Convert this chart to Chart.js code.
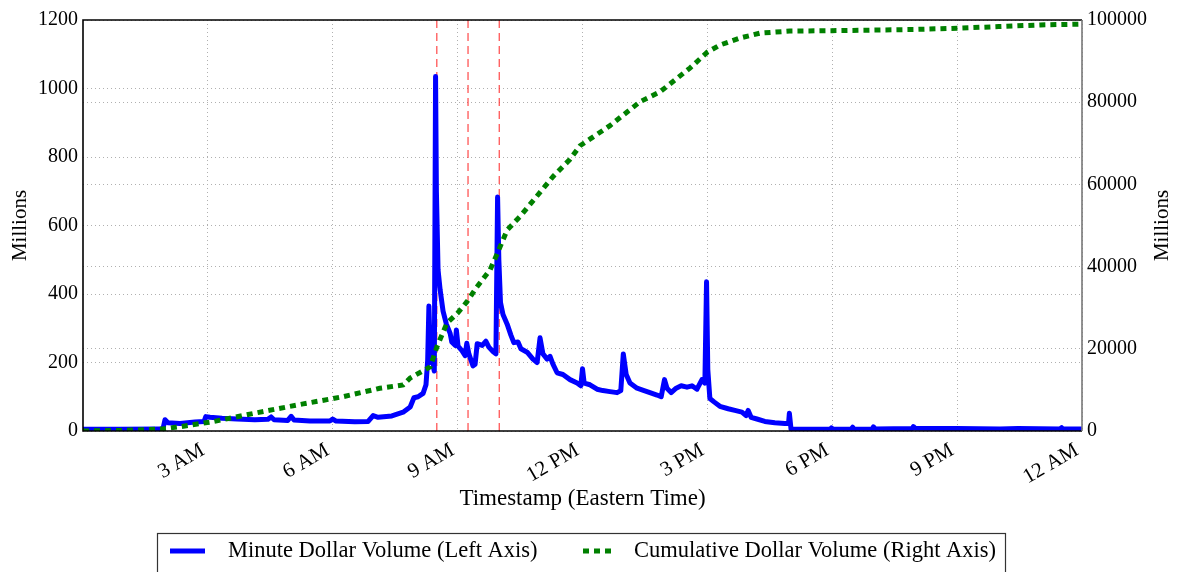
<!DOCTYPE html>
<html><head><meta charset="utf-8">
<script src="https://cdn.jsdelivr.net/npm/chart.js@4"></script>
<style>html,body{margin:0;padding:0;background:#fff;}#wrap{width:1177px;height:572px;position:relative;}</style>
</head><body><div id="wrap"><canvas id="c" width="1177" height="572"></canvas></div>
<script>
// ---- data (hours after midnight, Eastern Time) ----
const tickHours = [3, 6, 9, 12, 15, 18, 21, 24];
const tickLabels = ['3 AM', '6 AM', '9 AM', '12 PM', '3 PM', '6 PM', '9 PM', '12 AM'];
const eventHours = [8.5, 9.25, 10];

const minuteHours = [0, 0.89, 1.85, 1.92, 1.97, 2.04, 2.33, 2.69, 2.91, 2.95, 3.05, 3.34, 3.70, 4.13, 4.44, 4.52, 4.59, 4.92, 5.0, 5.07,
  5.45, 5.93, 6.0, 6.08, 6.53, 6.85, 6.97, 7.09, 7.42, 7.69, 7.86, 7.95, 8.05, 8.17, 8.24, 8.28, 8.31, 8.35, 8.38, 8.42,
  8.44, 8.47, 8.49, 8.53, 8.58, 8.65, 8.73, 8.82, 8.86, 8.94, 8.97, 9.01, 9.10, 9.18, 9.22, 9.27, 9.37, 9.42, 9.47, 9.59,
  9.68, 9.75, 9.85, 9.92, 9.96, 9.99, 10.03, 10.09, 10.19, 10.28, 10.35, 10.45, 10.52, 10.67, 10.81, 10.91, 10.98, 11.05, 11.15, 11.22,
  11.29, 11.39, 11.53, 11.70, 11.87, 11.96, 12.0, 12.04, 12.18, 12.35, 12.49, 12.66, 12.83, 12.92, 12.98, 13.05, 13.14, 13.31, 13.48, 13.62,
  13.79, 13.89, 13.97, 14.03, 14.13, 14.25, 14.37, 14.51, 14.63, 14.75, 14.87, 14.94, 14.98, 15.01, 15.06, 15.16, 15.30, 15.50, 15.66, 15.83,
  15.93, 15.98, 16.05, 16.19, 16.38, 16.62, 16.86, 16.95, 16.97, 17.01, 17.95, 17.98, 18.02, 18.45, 18.49, 18.53, 18.96, 18.99, 19.03, 19.92,
  19.95, 19.99, 21.0, 22.03, 22.46, 23.47, 23.51, 23.54, 24.0];
const minuteVolume = [5, 5, 6, 6, 33, 24, 22, 26, 28, 42, 40, 37, 35, 33, 34, 41, 33, 31, 43, 32,
  29, 29, 35, 29, 27, 28, 45, 40, 44, 55, 70, 97, 100, 110, 135, 205, 365, 200, 240, 185,
  175, 1035, 700, 470, 412, 350, 312, 285, 260, 250, 295, 248, 235, 220, 256, 225, 190, 195, 255, 250,
  262, 245, 232, 225, 683, 500, 375, 340, 312, 280, 258, 260, 240, 230, 210, 200, 272, 225, 210, 218,
  195, 170, 165, 150, 140, 132, 182, 140, 135, 122, 118, 115, 112, 118, 225, 165, 140, 125, 118, 112,
  105, 100, 150, 125, 112, 125, 132, 128, 132, 122, 150, 140, 436, 180, 95, 85, 72, 65, 60, 55,
  45, 60, 40, 35, 28, 24, 22, 22, 52, 5, 5, 9, 5, 5, 11, 5, 6, 12, 6, 7,
  13, 8, 7, 6, 7, 6, 10, 6, 6];

const cumHours = [0, 1.0, 1.92, 2.33, 3.12, 4.18, 5.29, 6.25, 7.13, 7.69, 7.86, 8.34, 8.5, 8.74, 9.0, 9.22, 9.46, 9.78, 9.97, 10.19,
  10.5, 10.9, 11.3, 11.7, 11.94, 12.66, 13.38, 13.86, 14.58, 15.0, 15.3, 15.78, 16.26, 16.98, 18.0, 20.0, 21.0, 22.0, 23.0, 24.0];
const cumVolume = [0, 150, 500, 1050, 2270, 4450, 6600, 8350, 10400, 11200, 12900, 15600, 20400, 26200, 28700, 31400, 35000, 39200, 43600, 48900,
  52200, 57100, 62000, 66100, 69400, 74300, 80100, 82500, 88300, 92200, 93900, 95600, 96800, 97300, 97400, 97700, 98000, 98400, 98800, 99000];

const leftRange = [0, 1200, 200];
const rightRange = [0, 100000, 20000];

// ---- build datasets ----
const pts = (xs, ys) => xs.map((x, i) => ({ x: x, y: ys[i] }));
const SERIF = '"Liberation Serif", "DejaVu Serif", serif';

const datasets = [
  { label: 'Cumulative Dollar Volume (Right Axis)', data: pts(cumHours, cumVolume), yAxisID: 'yR',
    borderColor: '#008000', borderWidth: 5, borderDash: [6, 5], pointRadius: 0, order: 0, inLegend: true },
  { label: 'Minute Dollar Volume (Left Axis)', data: pts(minuteHours, minuteVolume), yAxisID: 'y',
    borderColor: '#0000ff', borderWidth: 5, pointRadius: 0, order: 1, borderJoinStyle: 'round', inLegend: true }
];
eventHours.forEach(h => datasets.push({
  label: '', data: [{ x: h, y: leftRange[0] }, { x: h, y: leftRange[1] }], yAxisID: 'y',
  borderColor: 'rgba(255,40,40,0.85)', borderWidth: 1.2, borderDash: [8, 5], pointRadius: 0, order: 2, inLegend: false
}));

const gridStyle = { color: '#b0b0b0', lineWidth: 1, drawTicks: false };
const dotted = { display: false, dash: [1, 3] };

const framePlugin = {
  id: 'frame',
  afterDatasetsDraw(chart) {
    const a = chart.chartArea, ctx = chart.ctx;
    ctx.save();
    ctx.lineWidth = 1.6;
    ctx.strokeStyle = '#000';
    ctx.beginPath();
    ctx.moveTo(a.right, a.top); ctx.lineTo(a.left, a.top); ctx.lineTo(a.left, a.bottom); ctx.lineTo(a.right, a.bottom);
    ctx.stroke();
    ctx.strokeStyle = '#777';
    ctx.beginPath(); ctx.moveTo(a.right, a.top); ctx.lineTo(a.right, a.bottom); ctx.stroke();
    ctx.restore();
  }
};

// right-axis title, reading bottom-to-top like the left one
const rightTitlePlugin = {
  id: 'rightTitle',
  afterDraw(chart) {
    const s = chart.scales.yR, t = chart.options.scales.yR.title, ctx = chart.ctx;
    ctx.save();
    ctx.translate(s.right - 15, (s.top + s.bottom) / 2);
    ctx.rotate(-Math.PI / 2);
    ctx.font = '21px ' + SERIF; ctx.fillStyle = '#000';
    ctx.textAlign = 'center'; ctx.textBaseline = 'middle';
    ctx.fillText(t.text, 0, 0);
    ctx.restore();
  }
};

const legendLayout = { box: [157, 533, 848, 60], cy: 551, items: [[170, 205, 228], [583, 611, 634]], font: '22.5px ' + SERIF };
const boxLegendPlugin = {
  id: 'boxLegend',
  afterDraw(chart) {
    const ctx = chart.ctx, L = legendLayout;
    const items = chart.data.datasets.filter(d => d.inLegend).reverse();
    ctx.save();
    ctx.lineWidth = 1.2; ctx.strokeStyle = '#333';
    ctx.strokeRect(L.box[0] + 0.5, L.box[1] + 0.5, L.box[2], L.box[3]);
    items.forEach((d, i) => {
      const [sx, ex, tx] = L.items[i];
      ctx.strokeStyle = d.borderColor; ctx.lineWidth = d.borderWidth;
      ctx.setLineDash(d.borderDash || []);
      ctx.beginPath(); ctx.moveTo(sx, L.cy); ctx.lineTo(ex, L.cy); ctx.stroke();
      ctx.setLineDash([]);
      ctx.fillStyle = '#000'; ctx.font = L.font; ctx.textBaseline = 'middle'; ctx.textAlign = 'left';
      ctx.fillText(d.label, tx, L.cy);
    });
    ctx.restore();
  }
};

new Chart(document.getElementById('c'), {
  type: 'line',
  data: { datasets: datasets },
  options: {
    responsive: false, animation: false, devicePixelRatio: 1,
    layout: { padding: { top: 20, bottom: 39, left: 0, right: 0 } },
    plugins: { legend: { display: false }, tooltip: { enabled: false } },
    elements: { line: { tension: 0 } },
    scales: {
      x: {
        type: 'linear', min: 0, max: 24,
        afterBuildTicks: s => { s.ticks = tickHours.map(v => ({ value: v })); },
        afterFit: s => { s.height = 102; },
        ticks: { autoSkip: false, minRotation: 30, maxRotation: 30, padding: 7, labelOffset: -5, color: '#000',
          font: { family: SERIF, size: 21 }, callback: v => tickLabels[tickHours.indexOf(v)] },
        grid: gridStyle, border: dotted,
        title: { display: true, text: 'Timestamp (Eastern Time)', color: '#000', font: { family: SERIF, size: 23 }, padding: { top: 0, bottom: 20 } }
      },
      y: {
        position: 'left', min: leftRange[0], max: leftRange[1],
        afterFit: s => { s.width = 83; },
        ticks: { stepSize: leftRange[2], padding: 5, color: '#000', font: { family: SERIF, size: 20 }, callback: v => String(v) },
        grid: gridStyle, border: dotted,
        title: { display: true, text: 'Millions', color: '#000', font: { family: SERIF, size: 21 }, padding: { top: 8, bottom: 0 } }
      },
      yR: {
        position: 'right', min: rightRange[0], max: rightRange[1],
        afterFit: s => { s.width = 95; },
        ticks: { stepSize: rightRange[2], padding: 5, color: '#000', font: { family: SERIF, size: 20 }, callback: v => String(v) },
        grid: gridStyle, border: dotted,
        title: { display: false, text: 'Millions' }
      }
    }
  },
  plugins: [framePlugin, rightTitlePlugin, boxLegendPlugin]
});
</script></body></html>
